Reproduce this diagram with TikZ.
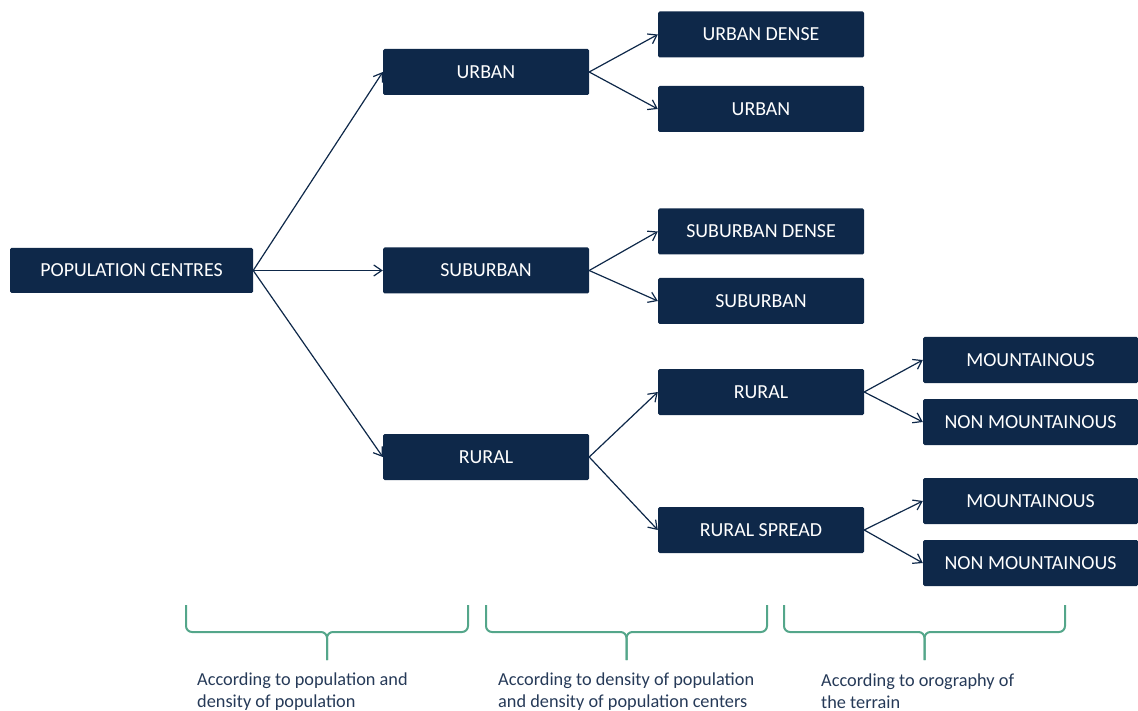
\documentclass[tikz,border=0pt]{standalone}
\usepackage{fontspec}
\setmainfont{Carlito}
\usetikzlibrary{arrows.meta}
\definecolor{boxblue}{RGB}{14,40,73}
\definecolor{bracegreen}{RGB}{84,166,138}
\definecolor{notegray}{RGB}{38,58,88}
\tikzset{x=1pt, y=-1pt,
    class/.style={fill=boxblue, text=white, rounded corners=1.5pt,
        minimum width=206pt, minimum height=46pt, inner sep=0pt,
        font=\fontsize{19.9}{22}\selectfont},
    link/.style={draw=boxblue, line width=1.2pt, -{Straight Barb[length=8pt,width=11pt]}},
    brace/.style={draw=bracegreen, line width=2pt, rounded corners=6pt},
    note/.style={anchor=north west, inner sep=0pt, align=left, text=notegray,
        font=\fontsize{18.3}{21.8}\selectfont},
    }

\begin{document}
\begin{tikzpicture}
\useasboundingbox (0,0) rectangle (1138,711);
% level 0
\node[class, minimum width=243pt, minimum height=45pt] (pc) at (131.5,270.5) {POPULATION CENTRES};
% level 1
\node[class] (urb) at (486,72) {URBAN};
\node[class] (sub) at (486,270.5) {SUBURBAN};
\node[class] (rur) at (486,457) {RURAL};
% level 2
\node[class] (urbd) at (761,34.5) {URBAN DENSE};
\node[class] (urbn) at (761,109) {URBAN};
\node[class] (subd) at (761,231.5) {SUBURBAN DENSE};
\node[class] (subn) at (761,301) {SUBURBAN};
\node[class] (rurl) at (761,392) {RURAL};
\node[class] (rurs) at (761,530) {RURAL SPREAD};
% level 3
\node[class, minimum width=215pt] (mnta) at (1030.5,360) {MOUNTAINOUS};
\node[class, minimum width=215pt] (nmnta) at (1030.5,422) {NON MOUNTAINOUS};
\node[class, minimum width=215pt] (mntb) at (1030.5,501) {MOUNTAINOUS};
\node[class, minimum width=215pt] (nmntb) at (1030.5,563) {NON MOUNTAINOUS};

\foreach \a/\b in {pc/urb, pc/sub, pc/rur, urb/urbd, urb/urbn, sub/subd, sub/subn,
    rur/rurl, rur/rurs, rurl/mnta, rurl/nmnta, rurs/mntb, rurs/nmntb}
    \draw[link] (\a.east) -- (\b.west);

% braces under the levels
\foreach \l/\r in {186/468, 486/767, 784/1065}{
    \draw[brace] (\l,605) |- ({(\l+\r)/2},632) -- ++(0,28);
    \draw[brace] (\r,605) |- ({(\l+\r)/2},632) -- ++(0,28);
}

\node[note] (noteA) at (197,673) {According to population and\\density of population};
\node[note] (noteB) at (498,673) {According to density of population\\and density of population centers};
\node[note] (noteC) at (821,674) {According to orography of\\the terrain};
\end{tikzpicture}
\end{document}
